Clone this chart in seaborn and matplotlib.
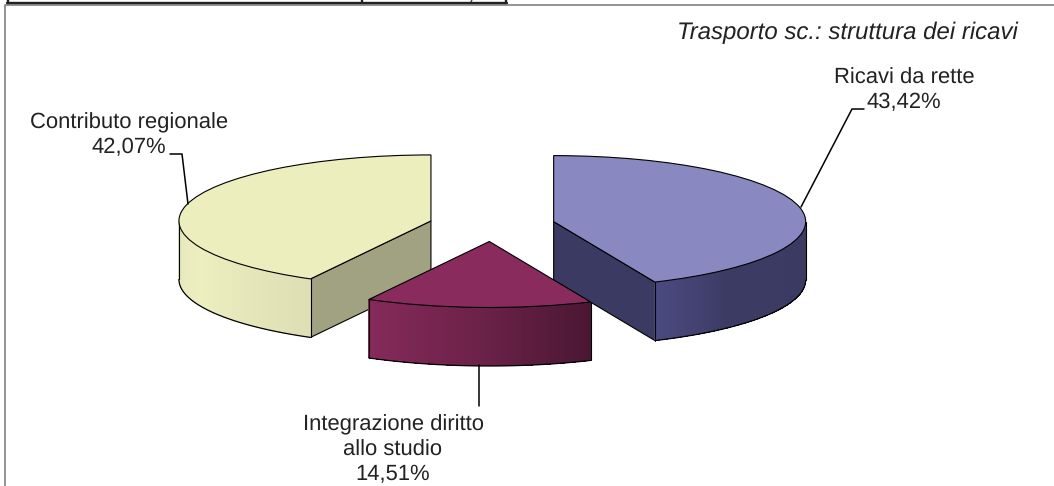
import numpy as np
import matplotlib
matplotlib.use("Agg")
import matplotlib.pyplot as plt
import seaborn as sns
from matplotlib.colors import to_rgb

labels = ["Ricavi da rette", "Integrazione diritto\nallo studio", "Contributo regionale"]
values = [43.42, 14.51, 42.07]
value_labels = ["43,42%", "14,51%", "42,07%"]
title = "Trasporto sc.: struttura dei ricavi"
top_colors = ["#8A88C0", "#8A2B5E", "#ECEEBE"]
cut_colors = ["#3B3A63", "#8A2B5E", "#A1A282"]
side_left = ["#4A4A80", "#862A5A", "#E4E5BC"]
side_mid = ["#3C3B64", "#6C2249", "#EDEFC0"]
side_right = ["#3B3A63", "#4A1733", "#DEDFB4"]
side_mid_pos = [0.3, 0.5, 0.4]

W, H = 1054, 486
RX, RY, DEPTH = 252.0, 66.0, 58.5
CX, CY = 492.0, 225.0
EXPLODE = 63.0
YS = RY / RX  # vertical squash of the circular pie

sns.set_theme(style="white")
plt.rcParams["font.family"] = ["Liberation Sans", "DejaVu Sans"]
plt.rcParams["text.hinting"] = "no_hinting"
plt.rcParams["text.hinting_factor"] = 1

fig = plt.figure(figsize=(W / 100, H / 100), dpi=100, facecolor="white")
ax = fig.add_axes([0, 0, 1, 1])


def py(p):
    """pixel row to squashed data y"""
    return (H - p) / YS


wedges, _ = ax.pie(values, explode=[EXPLODE] * 3, startangle=90, counterclock=False,
                   radius=RX, center=(CX, py(CY)), colors=top_colors, frame=True,
                   wedgeprops=dict(edgecolor="black", linewidth=0.8))
ax.set_aspect("auto")
ax.set_xlim(0, W)
ax.set_ylim(0, H / YS)
ax.axis("off")
D = DEPTH / YS


def mix(i, t):
    a, b, c = [np.array(to_rgb(s[i])) for s in (side_left, side_mid, side_right)]
    m = side_mid_pos[i]
    if t < m:
        return a + (b - a) * t / m
    return b + (c - b) * (t - m) / (1 - m)


# Walls, painted back to front: yellow, blue, purple
order = [2, 0, 1]
for i in order:
    w = wedges[i]
    z = 10 + order.index(i) * 10
    w.set_zorder(z + 2)
    cx, cy = w.center
    a1, a2 = w.theta1, w.theta2
    pt = lambda a: (cx + RX * np.cos(np.radians(a)), cy + RX * np.sin(np.radians(a)))
    # flat cut faces
    if i != 1:
        for a in (a1, a2):
            if np.sin(np.radians(a)) > 0.99:
                continue
            x, y = pt(a)
            ax.fill([cx, x, x, cx], [cy, y, y - D, cy - D], facecolor=cut_colors[i],
                    edgecolor="black", linewidth=0.8, zorder=z)
    # front rim: the part of the arc facing the viewer
    lo, hi = max(a1, -180.0), min(a2, 0.0)
    ts = np.linspace(lo, hi, 90)
    for k, (t0, t1) in enumerate(zip(ts[:-1], ts[1:])):
        x0, y0 = pt(t0)
        x1, y1 = pt(t1)
        col = mix(i, k / 88)
        ax.fill([x0, x1, x1, x0], [y0, y1, y1 - D, y0 - D], facecolor=col,
                edgecolor="none", antialiased=False, zorder=z + 1)
    xs = np.array([pt(t) for t in ts])
    ax.plot(xs[:, 0], xs[:, 1] - D, color="black", lw=0.9, zorder=z + 1.5)
    ax.plot([xs[0, 0]] * 2, [xs[0, 1], xs[0, 1] - D], color="black", lw=0.8, zorder=z + 1.5)
    ax.plot([xs[-1, 0]] * 2, [xs[-1, 1], xs[-1, 1] - D], color="black", lw=0.8, zorder=z + 1.5)

# leader lines
leaders = [
    [(801, 207), (852, 109), (864, 109)],
    [(479, 365), (479, 406)],
    [(188, 204), (182, 154), (170, 154)],
]
for seg in leaders:
    ax.plot([p[0] for p in seg], [py(p[1]) for p in seg], color="black", lw=1.1, zorder=60)

# labels
text_kw = dict(ha="center", va="center", fontsize=15.7, color="#222222", zorder=70, linespacing=1.28)
ax.text(904, py(90.5), labels[0] + "\n" + value_labels[0], **text_kw)
ax.text(393, py(450), labels[1] + "\n" + value_labels[1], **text_kw)
ax.text(129, py(135), labels[2] + "\n" + value_labels[2], **text_kw)
ax.text(1018, py(33), title, ha="right", va="center", fontsize=17.6, style="italic",
        color="#222222", zorder=70)

# chart frame (right and bottom fall outside the crop)
ax.plot([5, 5, 1054], [py(486), py(5), py(5)], color="#808080", lw=1.2, zorder=80)
# fragment of the page table above the chart
ax.plot([7, 507], [py(3.5), py(3.5)], color="#222222", lw=1.7, zorder=81)
for x in (7.5, 361.5, 506):
    ax.plot([x, x], [py(0), py(3.5)], color="#222222", lw=1.7, zorder=81)
ax.plot([470, 472], [py(3.5), py(0)], color="#222222", lw=0.8, zorder=81)
fig.savefig("out.png", dpi=100)
